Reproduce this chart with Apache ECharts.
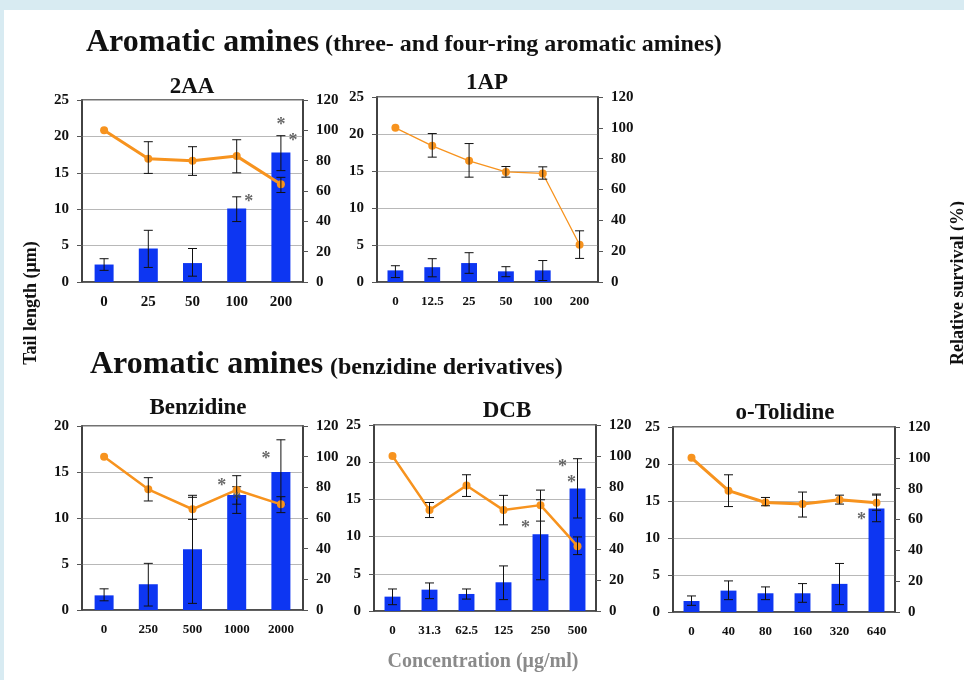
<!DOCTYPE html>
<html>
<head>
<meta charset="utf-8">
<script src="https://cdn.jsdelivr.net/npm/echarts@6/dist/echarts.min.js"></script>
<style>
  html, body { margin: 0; padding: 0; background: #fff; }
  #main { width: 964px; height: 680px; }
</style>
</head>
<body>
<div id="main"></div>
<script>
// ---- data ----
// tail length (um, left axis) with error ranges, relative survival (%, right axis) with error ranges
// stars: [category index, tail-axis value, side]
const cat2AA = ['0', '25', '50', '100', '200'];
const tail2AA = [2.4, 4.6, 2.6, 10.1, 17.8];
const tailErr2AA = [[1.6, 3.2], [2.0, 7.1], [0.8, 4.6], [8.3, 11.7], [15.3, 20.1]];
const surv2AA = [100, 81.3, 80, 83, 64.4];
const survErr2AA = [null, [71.6, 92.5], [70.3, 89.2], [72, 93.8], [59, 69]];
const star2AA = [[4, 22, 'c'], [4, 19.9, 'r'], [3, 11.5, 'r']];

const cat1AP = ['0', '12.5', '25', '50', '100', '200'];
const tail1AP = [1.57, 2.0, 2.56, 1.44, 1.57, null];
const tailErr1AP = [[0.6, 2.2], [0.7, 3.15], [1.17, 3.96], [0.72, 2.07], [0.2, 2.9], null];
const surv1AP = [100, 88.3, 78.6, 71.4, 70.4, 24.2];
const survErr1AP = [null, [81, 96.3], [68, 89.8], [68, 74.9], [66.7, 74.7], [15.3, 33.2]];
const star1AP = [];

const catBenz = ['0', '250', '500', '1000', '2000'];
const tailBenz = [1.59, 2.8, 6.6, 12.5, 15.0];
const tailErrBenz = [[1.0, 2.3], [0.43, 5.07], [0.72, 12.25], [11.5, 13.4], [11.5, 18.5]];
const survBenz = [100, 78.7, 65.7, 78.3, 68.9];
const survErrBenz = [null, [71.1, 86.3], [59.1, 74.8], [63, 87.6], [63.5, 73.9]];
const starBenz = [[3, 13.9, 'l'], [3, 12.3, 'c'], [4, 16.8, 'l']];

const catDCB = ['0', '31.3', '62.5', '125', '250', '500'];
const tailDCB = [1.93, 2.87, 2.29, 3.86, 10.3, 16.47];
const tailErrDCB = [[0.85, 2.96], [1.66, 3.77], [1.6, 2.96], [1.53, 6.06], [4.2, 14.95], [12.5, 20.47]];
const survDCB = [100, 65.1, 81, 65.1, 68.3, 41.8];
const survErrDCB = [null, [60.3, 70], [73.9, 87.9], [55.6, 74.6], [58, 78], [36.4, 47.8]];
const starDCB = [[4, 11.6, 'l'], [5, 19.9, 'l'], [5, 17.7, 'lc']];

const catTol = ['0', '40', '80', '160', '320', '640'];
const tailTol = [1.49, 2.89, 2.53, 2.53, 3.8, 14.0];
const tailErrTol = [[0.9, 2.17], [1.67, 4.2], [1.67, 3.39], [1.31, 3.84], [1.0, 6.56], [12.2, 15.8]];
const survTol = [100, 78.7, 71, 70, 72.8, 70.8];
const survErrTol = [null, [68.4, 89], [68.9, 74.3], [61.6, 77.8], [70, 75.8], [66, 76.5]];
const starTol = [[5, 12.9, 'l']];

const survTicks = [0, 120, 20];

// ---- layout ----
const serif = '"Liberation Serif", "DejaVu Serif", serif';
const panels = [
  { name: '2AA', box: [82, 100, 221, 182], tmax: 25, lw: 3, xfs: 15, title: [192, 87],
    cat: cat2AA, tail: tail2AA, tailErr: tailErr2AA, surv: surv2AA, survErr: survErr2AA, stars: star2AA },
  { name: '1AP', box: [377, 97, 221, 185], tmax: 25, lw: 1.3, xfs: 13, title: [487, 83],
    cat: cat1AP, tail: tail1AP, tailErr: tailErr1AP, surv: surv1AP, survErr: survErr1AP, stars: star1AP },
  { name: 'Benzidine', box: [82, 426, 221, 184], tmax: 20, lw: 2.5, xfs: 13, title: [198, 408],
    cat: catBenz, tail: tailBenz, tailErr: tailErrBenz, surv: survBenz, survErr: survErrBenz, stars: starBenz },
  { name: 'DCB', box: [374, 425, 222, 186], tmax: 25, lw: 2.5, xfs: 13, title: [507, 411],
    cat: catDCB, tail: tailDCB, tailErr: tailErrDCB, surv: survDCB, survErr: survErrDCB, stars: starDCB },
  { name: 'o-Tolidine', box: [673, 427, 222, 185], tmax: 25, lw: 3, xfs: 13, title: [785, 413],
    cat: catTol, tail: tailTol, tailErr: tailErrTol, surv: survTol, survErr: survErrTol, stars: starTol }
];
const starShift = { l: -15, lc: -6, c: 0, r: 12 };

const tickFont = { color: '#111', fontFamily: serif, fontWeight: 'bold' };

function errItem(params, api) {
  const x = api.value(0);
  const p1 = api.coord([x, api.value(1)]);
  const p2 = api.coord([x, api.value(2)]);
  const w = 4.5;
  const st = { stroke: '#111', lineWidth: 1 };
  return {
    type: 'group',
    children: [
      { type: 'line', shape: { x1: p1[0], y1: p1[1], x2: p2[0], y2: p2[1] }, style: st },
      { type: 'line', shape: { x1: p1[0] - w, y1: p1[1], x2: p1[0] + w, y2: p1[1] }, style: st },
      { type: 'line', shape: { x1: p2[0] - w, y1: p2[1], x2: p2[0] + w, y2: p2[1] }, style: st }
    ]
  };
}

function errData(arr) {
  const out = [];
  arr.forEach((e, i) => { if (e) out.push([i, e[0], e[1]]); });
  return out;
}

const grid = [], xAxis = [], yAxis = [], series = [];
const graphic = [
  { type: 'rect', shape: { x: 0, y: 0, width: 964, height: 10 }, style: { fill: '#d8ebf2' }, z: 100 },
  { type: 'rect', shape: { x: 0, y: 0, width: 4, height: 680 }, style: { fill: '#d8ebf2' }, z: 100 }
];

panels.forEach((p, i) => {
  grid.push({ left: p.box[0], top: p.box[1], width: p.box[2], height: p.box[3],
    show: true, borderColor: '#444', borderWidth: 1.5, backgroundColor: '#fff' });
  xAxis.push({ gridIndex: i, type: 'category', data: p.cat,
    axisLine: { lineStyle: { color: '#444', width: 1.5 } },
    axisTick: { length: 4, lineStyle: { color: '#555' } },
    axisLabel: Object.assign({ margin: 13, fontSize: p.xfs }, tickFont) });
  yAxis.push({ gridIndex: i, type: 'value', position: 'left', min: 0, max: p.tmax, interval: 5,
    axisLine: { show: true, lineStyle: { color: '#333', width: 1.5 } },
    axisTick: { show: true, length: 5, lineStyle: { color: '#555' } },
    splitLine: { lineStyle: { color: '#b8b8b8', width: 1 } },
    axisLabel: Object.assign({ margin: 13, fontSize: 15 }, tickFont) });
  yAxis.push({ gridIndex: i, type: 'value', position: 'right', min: survTicks[0], max: survTicks[1], interval: survTicks[2],
    axisLine: { show: true, lineStyle: { color: '#333', width: 1.5 } },
    axisTick: { show: true, length: 5, lineStyle: { color: '#555' } },
    splitLine: { show: false },
    axisLabel: Object.assign({ margin: 13, fontSize: 15 }, tickFont) });

  const ly = 2 * i, ry = 2 * i + 1;
  series.push({ type: 'bar', xAxisIndex: i, yAxisIndex: ly, data: p.tail, barWidth: '43%', z: 2,
    itemStyle: { color: '#0d36f2' }, silent: true });
  series.push({ type: 'custom', xAxisIndex: i, yAxisIndex: ly, renderItem: errItem, z: 3,
    encode: { x: 0, y: [1, 2] }, data: errData(p.tailErr), silent: true });
  series.push({ type: 'line', xAxisIndex: i, yAxisIndex: ry, data: p.surv, z: 4,
    symbol: 'circle', symbolSize: 8, showSymbol: true,
    lineStyle: { color: '#f7931e', width: p.lw }, itemStyle: { color: '#f7931e' }, silent: true });
  series.push({ type: 'custom', xAxisIndex: i, yAxisIndex: ry, renderItem: errItem, z: 5,
    encode: { x: 0, y: [1, 2] }, data: errData(p.survErr), silent: true });
  if (p.stars.length) {
    series.push({ type: 'scatter', xAxisIndex: i, yAxisIndex: ly, z: 6, symbolSize: 1,
      itemStyle: { color: 'rgba(0,0,0,0)' }, silent: true,
      label: { show: true, position: 'inside', formatter: '*', color: '#444',
        fontFamily: serif, fontWeight: 'bold', fontSize: 18 },
      data: p.stars.map(s => ({ value: [s[0], s[1]], label: { offset: [starShift[s[2]], 4] } })) });
  }

  graphic.push({ type: 'text', x: p.title[0], y: p.title[1],
    style: { text: p.name, textAlign: 'center', textVerticalAlign: 'middle',
      font: 'bold 23px ' + serif, fill: '#111' } });
});

graphic.push(
  { type: 'text', x: 86, y: 43, style: { text: 'Aromatic amines', textVerticalAlign: 'middle',
      font: 'bold 32px ' + serif, fill: '#111' } },
  { type: 'text', x: 325, y: 45, style: { text: '(three- and four-ring aromatic amines)', textVerticalAlign: 'middle',
      font: 'bold 24px ' + serif, fill: '#111' } },
  { type: 'text', x: 90, y: 365, style: { text: 'Aromatic amines', textVerticalAlign: 'middle',
      font: 'bold 32px ' + serif, fill: '#111' } },
  { type: 'text', x: 330, y: 368, style: { text: '(benzidine derivatives)', textVerticalAlign: 'middle',
      font: 'bold 24px ' + serif, fill: '#111' } },
  { type: 'text', x: 31, y: 303, rotation: Math.PI / 2,
    style: { text: 'Tail length (μm)', textAlign: 'center', textVerticalAlign: 'middle',
      font: 'bold 18px ' + serif, fill: '#111' } },
  { type: 'text', x: 958, y: 283, rotation: Math.PI / 2,
    style: { text: 'Relative survival (%)', textAlign: 'center', textVerticalAlign: 'middle',
      font: 'bold 18px ' + serif, fill: '#111' } },
  { type: 'text', x: 483, y: 662,
    style: { text: 'Concentration (μg/ml)', textAlign: 'center', textVerticalAlign: 'middle',
      font: 'bold 20px ' + serif, fill: '#8a8a8a' } }
);

const myChart = echarts.init(document.getElementById('main'));
myChart.setOption({
  animation: false,
  backgroundColor: '#fff',
  grid: grid,
  xAxis: xAxis,
  yAxis: yAxis,
  series: series,
  graphic: graphic
});
</script>
</body>
</html>
